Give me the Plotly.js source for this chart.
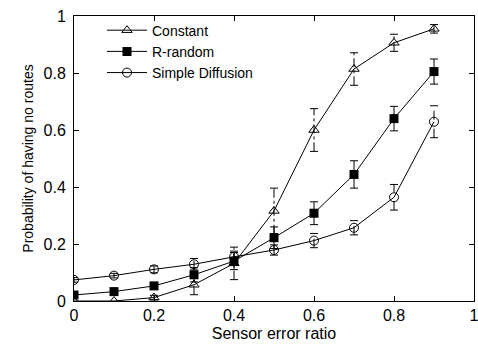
<!DOCTYPE html>
<html><head><meta charset="utf-8">
<script src="https://cdn.plot.ly/plotly-3.0.1.min.js"></script>
<style>html,body{margin:0;padding:0;background:#fff}#chart{width:478px;height:348px}</style>
</head><body><div id="chart"></div>
<script>
const xVals = [0, 0.1, 0.2, 0.3, 0.4, 0.5, 0.6, 0.7, 0.8, 0.9];
const constantY   = [0, 0.0, 0.012, 0.057, 0.132, 0.316, 0.600, 0.814, 0.906, 0.955];
const constantErr = [0, 0, 0.008, 0.035, 0.057, 0.08, 0.075, 0.057, 0.03, 0.015];
const rrandomY    = [0.021, 0.033, 0.053, 0.092, 0.140, 0.222, 0.308, 0.444, 0.640, 0.805];
const rrandomErr  = [0.005, 0.005, 0.008, 0.025, 0.03, 0.038, 0.04, 0.048, 0.043, 0.044];
const diffusionY  = [0.074, 0.089, 0.111, 0.129, 0.155, 0.179, 0.212, 0.257, 0.364, 0.629];
const diffusionErr= [0.008, 0.008, 0.012, 0.02, 0.02, 0.018, 0.025, 0.025, 0.045, 0.056];
const names = ['Constant', 'R-random', 'Simple Diffusion'];
const tickVals = [0, 0.2, 0.4, 0.6, 0.8, 1];
const tickText = ['0', '0.2', '0.4', '0.6', '0.8', '1'];

function errTrace(ys, errs, dash) {
  const cap = 0.01;
  const xs = [], yy = [];
  xVals.forEach((x, i) => {
    if (!errs[i]) return;
    const lo = ys[i] - errs[i], hi = ys[i] + errs[i];
    xs.push(x, x, null, x - cap, x + cap, null, x - cap, x + cap, null);
    yy.push(lo, hi, null, lo, lo, null, hi, hi, null);
  });
  return {x: xs, y: yy, mode: 'lines', showlegend: false, hoverinfo: 'skip',
          line: {color: '#000', width: 1, dash: dash}};
}

const traces = [
  errTrace(constantY, constantErr, 'dashdot'),
  errTrace(rrandomY, rrandomErr, 'solid'),
  errTrace(diffusionY, diffusionErr, 'dash'),
  {x: xVals, y: constantY, name: names[0], mode: 'lines+markers',
   line: {color: '#000', width: 1},
   marker: {symbol: 'triangle-up-open', size: 9, color: '#000', line: {width: 1, color: '#000'}}},
  {x: xVals, y: rrandomY, name: names[1], mode: 'lines+markers',
   line: {color: '#000', width: 1},
   marker: {symbol: 'square', size: 9, color: '#000'}},
  {x: xVals, y: diffusionY, name: names[2], mode: 'lines+markers',
   line: {color: '#000', width: 1},
   marker: {symbol: 'circle-open', size: 9, color: '#000', line: {width: 1, color: '#000'}}}
];

const axisCommon = {
  range: [0, 1], showgrid: false, zeroline: false,
  showline: true, linecolor: '#000', linewidth: 1, mirror: 'allticks',
  ticks: 'inside', ticklen: 5, tickcolor: '#000',
  tickvals: tickVals, ticktext: tickText, ticklabeloverflow: 'allow',
  tickfont: {family: 'Liberation Sans, Arial, sans-serif', size: 16, color: '#000'}
};

const layout = {
  width: 478, height: 348,
  margin: {l: 74, r: 4, t: 16, b: 47},
  paper_bgcolor: '#fff', plot_bgcolor: '#fff',
  font: {family: 'Liberation Sans, Arial, sans-serif', color: '#000'},
  xaxis: Object.assign({}, axisCommon, {
    title: {text: 'Sensor error ratio', font: {size: 16}, standoff: 4}
  }),
  yaxis: Object.assign({}, axisCommon, {
    ticklabelstandoff: 4,
    title: {text: 'Probability of having no routes', font: {size: 14}, standoff: 6}
  }),
  legend: {x: 0.07, y: 1.005, xanchor: 'left', yanchor: 'top',
           bgcolor: 'rgba(0,0,0,0)', borderwidth: 0,
           font: {size: 14, color: '#000'}, tracegroupgap: 0, itemwidth: 40},
  showlegend: true
};

Plotly.newPlot('chart', traces, layout, {displayModeBar: false, staticPlot: true});
</script></body></html>
